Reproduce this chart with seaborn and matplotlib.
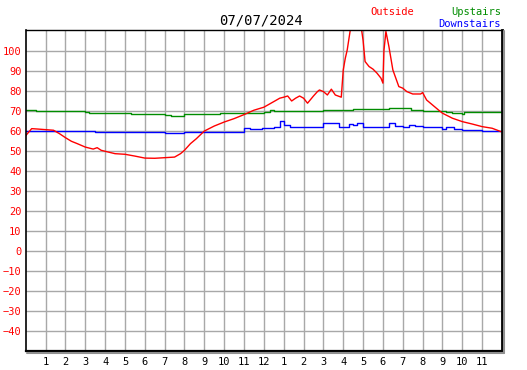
import numpy as np
import pandas as pd
import matplotlib
matplotlib.use("Agg")
import matplotlib.pyplot as plt
import seaborn as sns
from matplotlib.lines import Line2D

# hours since midnight, readings in deg F
outside_hr = [0.0, 0.3, 0.6, 1.0, 1.4, 1.7, 2.0, 2.3, 2.6, 3.0, 3.4, 3.6, 3.8, 4.0, 4.5, 5.0,
              5.5, 6.0, 6.5, 7.0, 7.5, 7.8, 8.0, 8.3, 8.6, 9.0, 9.5, 10.0, 10.5, 11.0, 11.5,
              12.0, 12.5, 12.8, 13.0, 13.2, 13.4, 13.6, 13.8, 14.0, 14.2, 14.5, 14.7, 14.8,
              15.0, 15.2, 15.4, 15.6, 15.9, 16.0, 16.1, 16.2, 16.35, 16.6, 16.9, 17.0, 17.1,
              17.3, 17.5, 17.7, 17.9, 18.0, 18.05, 18.15, 18.3, 18.5, 18.8, 19.0, 19.2, 19.5,
              19.9, 20.0, 20.2, 20.5, 20.8, 21.0, 21.5, 22.0, 22.5, 23.0, 23.5, 23.95]
outside = [57.5, 61.0, 60.8, 60.5, 60.2, 58.5, 56.5, 54.7, 53.5, 51.8, 50.8, 51.5, 50.2, 49.7,
           48.5, 48.2, 47.3, 46.3, 46.2, 46.5, 46.8, 48.5, 50.2, 53.5, 56.0, 59.8, 62.3, 64.3,
           66.0, 68.0, 70.2, 71.7, 74.5, 76.2, 76.7, 77.3, 74.8, 76.2, 77.3, 76.2, 73.7, 77.3,
           79.5, 80.3, 79.5, 77.8, 80.7, 77.8, 76.7, 90.3, 96.0, 100.3, 110.0, 113.0, 112.0,
           105.0, 94.5, 92.0, 90.7, 88.7, 86.2, 83.7, 100.0, 109.5, 102.0, 90.3, 82.0, 81.2,
           79.5, 78.3, 78.3, 79.0, 75.3, 72.8, 70.3, 68.7, 66.2, 64.5, 63.3, 62.0, 61.2, 59.5]

upstairs_hr = [0.0, 0.3, 0.5, 1.7, 3.0, 3.2, 4.3, 5.3, 7.0, 7.3, 8.0, 9.8, 11.0, 12.0, 12.3,
               12.5, 15.0, 16.5, 18.3, 19.0, 19.4, 20.0, 21.0, 21.2, 21.5, 22.0, 22.1, 22.5, 24.0]
upstairs = [70.5, 70.3, 70.0, 69.7, 69.3, 69.0, 68.7, 68.2, 67.7, 67.5, 68.2, 68.7, 69.0, 69.2,
            70.3, 70.0, 70.3, 70.7, 71.2, 71.2, 70.3, 70.0, 70.0, 69.5, 68.7, 68.3, 69.3, 69.3, 69.3]

downstairs_hr = [0.0, 1.0, 3.5, 7.0, 8.0, 11.0, 11.3, 11.9, 12.5, 12.8, 13.0, 13.3, 13.5, 15.0,
                 15.3, 15.6, 15.8, 16.3, 16.5, 16.7, 17.0, 17.5, 18.0, 18.3, 18.6, 19.0, 19.3,
                 19.6, 20.0, 20.5, 21.0, 21.2, 21.6, 22.0, 23.0, 24.0]
downstairs = [60.0, 59.7, 59.2, 58.7, 59.2, 61.5, 61.0, 61.5, 61.7, 65.0, 62.8, 62.0, 61.7, 64.0,
              63.7, 63.7, 61.7, 63.3, 62.7, 63.7, 62.0, 61.7, 61.7, 63.7, 62.3, 61.7, 62.8, 62.3,
              62.0, 61.7, 61.0, 61.7, 61.0, 60.3, 59.8, 59.5]

hour_ticks = list(range(1, 24))
hour_labels = [str(h if h <= 12 else h - 12) for h in hour_ticks]
temp_ticks = list(range(-40, 101, 10))

sns.set_style("white")
plt.rcParams['font.family'] = ['DejaVu Sans Mono']

fig = plt.figure(figsize=(5.27, 3.70), dpi=100)
ax = fig.add_axes([0.0488, 0.0514, 0.9038, 0.8662])

grey = "#a8a8a8"
for h in hour_ticks:
    ax.axvline(h, color=grey, lw=1, zorder=0)
for t in temp_ticks:
    ax.axhline(t, color=grey, lw=1, zorder=0)

sns.lineplot(x=upstairs_hr, y=upstairs, color="#008c00", lw=1, ax=ax, drawstyle="steps-post")
sns.lineplot(x=downstairs_hr, y=downstairs, color="#0000ff", lw=1, ax=ax, drawstyle="steps-post")
sns.lineplot(x=outside_hr, y=outside, color="#ff0000", lw=1, ax=ax)

ax.set_xlim(0, 24)
ax.set_ylim(-50, 110)
ax.set_xticks(hour_ticks)
ax.set_xticklabels(hour_labels)
ax.set_yticks(temp_ticks)
ax.tick_params(axis="x", direction="in", length=4, width=1, colors="black",
               labelsize=7.5, pad=4)
ax.tick_params(axis="y", direction="in", length=4, width=1, labelcolor="#ff0000",
               color="black", labelsize=7.5, pad=3)
ax.set_xlabel("")
ax.set_ylabel("")

for side in ["left", "bottom", "right", "top"]:
    ax.spines[side].set_visible(True)
    ax.spines[side].set_color("black")
ax.spines["left"].set_linewidth(1.2)
ax.spines["top"].set_linewidth(1.0)
ax.spines["bottom"].set_linewidth(1.6)
ax.spines["right"].set_linewidth(2.0)

# drop shadow under bottom and right edges
fig.add_artist(Line2D([0.052, 0.957], [0.045, 0.045], color="#909090", lw=1.5))
fig.add_artist(Line2D([0.957, 0.957], [0.045, 0.915], color="#909090", lw=1.5))

fig.text(0.496, 0.945, "07/07/2024", ha="center", va="center", fontsize=10, color="black")
fig.text(0.702, 0.968, "Outside", ha="left", va="center", fontsize=7.5, color="#ff0000")
fig.text(0.951, 0.968, "Upstairs", ha="right", va="center", fontsize=7.5, color="#008c00")
fig.text(0.951, 0.936, "Downstairs", ha="right", va="center", fontsize=7.5, color="#0000ff")

fig.savefig("out.png", dpi=100)
